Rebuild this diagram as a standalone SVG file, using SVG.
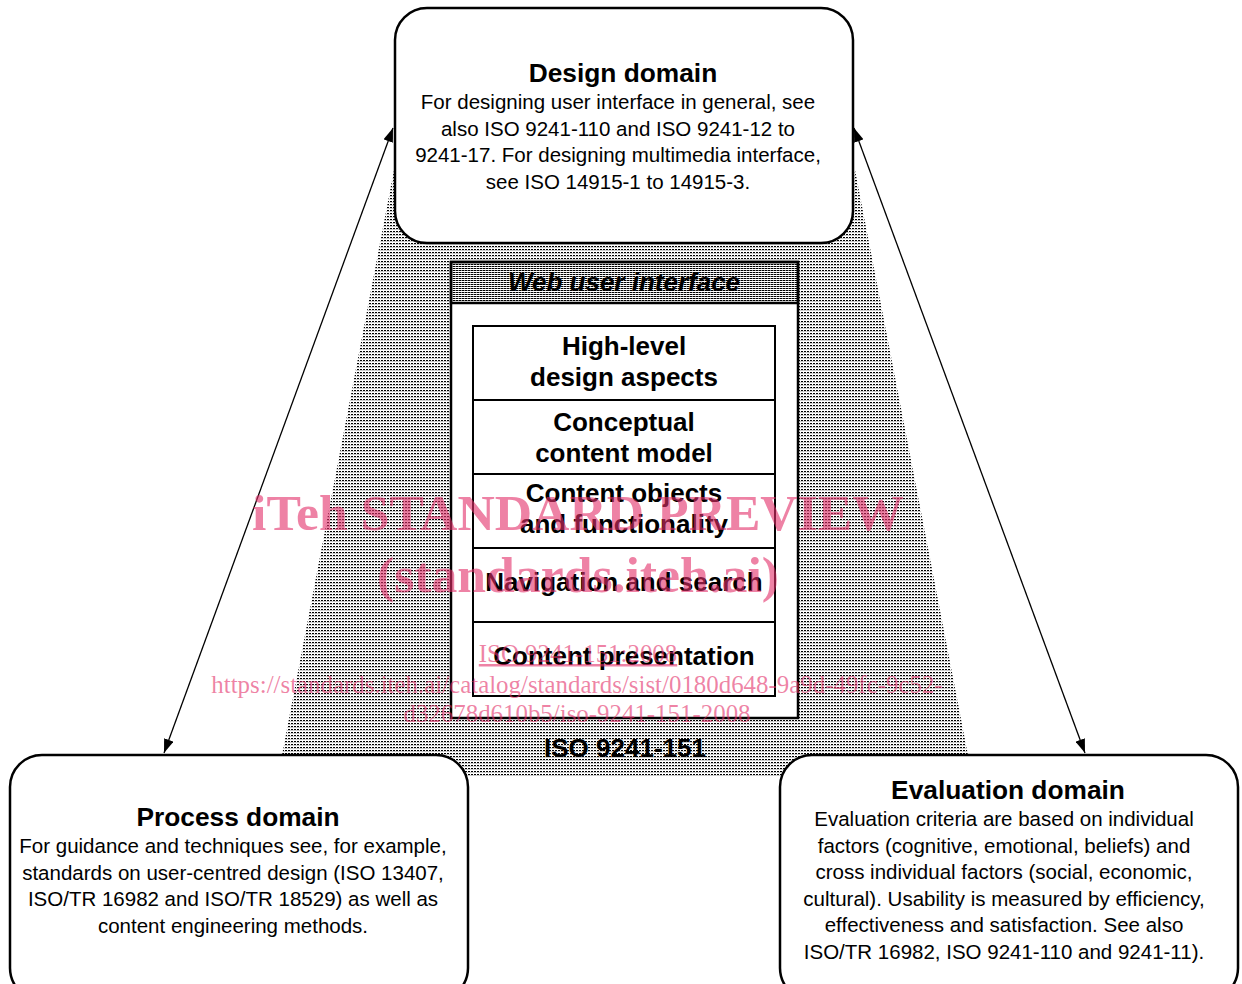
<svg xmlns="http://www.w3.org/2000/svg" width="1242" height="984" viewBox="0 0 1242 984">
<defs>
<pattern id="dots" x="0" y="0" width="3" height="3" patternUnits="userSpaceOnUse">
<rect x="0" y="0" width="2" height="1" fill="#000"/>
<rect x="0" y="1" width="3" height="1" fill="#ccc"/>
</pattern>
<pattern id="dense" x="0" y="0" width="3" height="2" patternUnits="userSpaceOnUse">
<rect x="0" y="0" width="3" height="1" fill="#000"/>
<rect x="2" y="0" width="1" height="1" fill="#888"/>
</pattern>
<marker id="ah" viewBox="0 0 14 10" refX="14" refY="5" markerWidth="14" markerHeight="10" markerUnits="userSpaceOnUse" orient="auto-start-reverse">
<path d="M0,0 L14,5 L0,10 Z" fill="#000"/>
</marker>
</defs>
<style>
.box{fill:#fff;stroke:#000;stroke-width:2.5}
.inner{fill:#fff;stroke:#000;stroke-width:2}
.title{font-family:"Liberation Sans",Arial,sans-serif;font-weight:bold;font-size:26.3px;text-anchor:middle;fill:#000}
.body{font-family:"Liberation Sans",Arial,sans-serif;font-size:20.5px;text-anchor:middle;fill:#000}
.lbl{font-family:"Liberation Sans",Arial,sans-serif;font-weight:bold;font-size:26px;text-anchor:middle;fill:#000}
.wm{font-family:"Liberation Serif","Times New Roman",serif;fill:#e32f69;fill-opacity:0.6;text-anchor:middle}
.conn{stroke:#000;stroke-width:1.3;fill:none}
</style>
<rect width="1242" height="984" fill="#fff"/>
<polygon points="394,170 855,170 972,776 278,776" fill="url(#dots)"/>
<g id="connectors">
<line class="conn" x1="393" y1="128" x2="164" y2="753" marker-start="url(#ah)" marker-end="url(#ah)"/>
<line class="conn" x1="854" y1="128" x2="1085" y2="753" marker-start="url(#ah)" marker-end="url(#ah)"/>
</g>
<g id="design-domain">
<rect class="box" x="395" y="8" width="458" height="235" rx="32" ry="32"/>
<text class="title" x="623" y="82">Design domain</text>
<text class="body" x="618" y="109">For designing user interface in general, see</text>
<text class="body" x="618" y="136">also ISO 9241-110 and ISO 9241-12 to</text>
<text class="body" x="618" y="162">9241-17. For designing multimedia interface,</text>
<text class="body" x="618" y="189">see ISO 14915-1 to 14915-3.</text>
</g>
<g id="process-domain">
<rect class="box" x="10" y="755" width="458" height="245" rx="32" ry="32"/>
<text class="title" x="238" y="826">Process domain</text>
<text class="body" x="233" y="853">For guidance and techniques see, for example,</text>
<text class="body" x="233" y="880">standards on user-centred design (ISO 13407,</text>
<text class="body" x="233" y="906">ISO/TR 16982 and ISO/TR 18529) as well as</text>
<text class="body" x="233" y="933">content engineering methods.</text>
</g>
<g id="evaluation-domain">
<rect class="box" x="780" y="755" width="458" height="245" rx="32" ry="32"/>
<text class="title" x="1008" y="799">Evaluation domain</text>
<text class="body" x="1004" y="826">Evaluation criteria are based on individual</text>
<text class="body" x="1004" y="853">factors (cognitive, emotional, beliefs) and</text>
<text class="body" x="1004" y="879">cross individual factors (social, economic,</text>
<text class="body" x="1004" y="906">cultural). Usability is measured by efficiency,</text>
<text class="body" x="1004" y="932">effectiveness and satisfaction. See also</text>
<text class="body" x="1004" y="959">ISO/TR 16982, ISO 9241-110 and 9241-11).</text>
</g>
<g id="web-user-interface">
<rect x="451" y="262" width="347" height="456" fill="#fff" stroke="#000" stroke-width="2.5"/>
<rect x="451" y="262" width="347" height="41" fill="url(#dense)" stroke="#000" stroke-width="2.5"/>
<text class="lbl" x="624" y="291" font-style="italic">Web user interface</text>
</g>
<g id="high-level">
<rect class="inner" x="473" y="326" width="302" height="74"/>
<text class="lbl" x="624" y="355">High-level</text>
<text class="lbl" x="624" y="386">design aspects</text>
</g>
<g id="conceptual">
<rect class="inner" x="473" y="400" width="302" height="74"/>
<text class="lbl" x="624" y="431">Conceptual</text>
<text class="lbl" x="624" y="462">content model</text>
</g>
<g id="content-objects">
<rect class="inner" x="473" y="474" width="302" height="74"/>
<text class="lbl" x="624" y="502">Content objects</text>
<text class="lbl" x="624" y="533">and functionality</text>
</g>
<g id="navigation">
<rect class="inner" x="473" y="548" width="302" height="74"/>
<text class="lbl" x="624" y="591">Navigation and search</text>
</g>
<g id="presentation">
<rect class="inner" x="473" y="622" width="302" height="74"/>
<text class="lbl" x="624" y="665">Content presentation</text>
</g>
<g id="iso-label">
<text class="lbl" x="625" y="757">ISO 9241-151</text>
</g>
<g id="watermark">
<text class="wm" x="578" y="530" font-size="51.7" font-weight="bold">iTeh STANDARD PREVIEW</text>
<text class="wm" x="578" y="592" font-size="51.7" font-weight="bold">(standards.iteh.ai)</text>
<text class="wm" x="578" y="662" font-size="24.9" text-decoration="underline">ISO 9241-151:2008</text>
<text class="wm" x="577" y="693" font-size="24.9">https://standards.iteh.ai/catalog/standards/sist/0180d648-9a9d-49fc-9c52-</text>
<text class="wm" x="577" y="722" font-size="24.9">d32678d610b5/iso-9241-151-2008</text>
</g>
</svg>
